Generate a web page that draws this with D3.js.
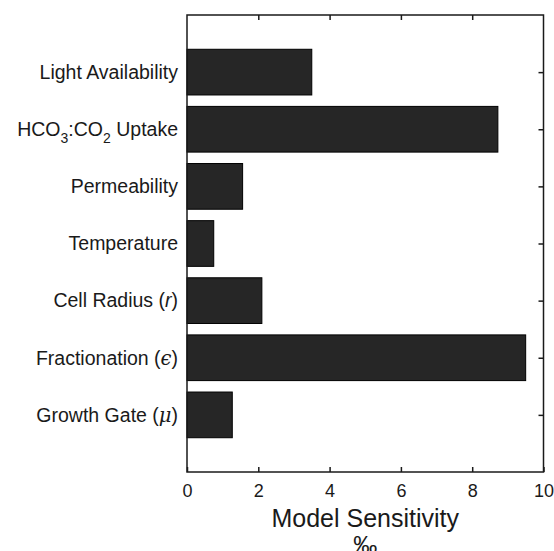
<!DOCTYPE html>
<html>
<head>
<meta charset="utf-8">
<script src="https://cdn.jsdelivr.net/npm/d3@7"></script>
<style>
  body { margin: 0; background: #fff; }
  text { font-family: "Liberation Sans", Arial, sans-serif; fill: #1a1a1a; }
</style>
</head>
<body>
<div id="chart"></div>
<script>
// categories, top to bottom
const categories = [
    'Light Availability', 'HCO3:CO2 Uptake', 'Permeability', 'Temperature',
    'Cell Radius (r)', 'Fractionation (ϵ)', 'Growth Gate (μ)'
];
const sensitivity = [3.5, 8.72, 1.56, 0.75, 2.1, 9.5, 1.27];
const xTicks = [0, 2, 4, 6, 8, 10];

const width = 554, height = 551;
const margin = {top: 15, right: 10, bottom: 79, left: 187};

const svg = d3.select('#chart').append('svg')
    .attr('width', width)
    .attr('height', height);

const x = d3.scaleLinear().domain([0, 10]).range([margin.left, width - margin.right - 0.5]);
// matlab style: categories at 1..7, axis from 0 to 8
const y = d3.scaleLinear().domain([0, 8]).range([margin.top, height - margin.bottom]);
const barH = (y(1) - y(0)) * 0.8;

svg.append('g').selectAll('rect')
    .data(sensitivity)
    .join('rect')
    .attr('x', x(0))
    .attr('y', (d, i) => y(i + 1) - barH / 2)
    .attr('width', d => x(d) - x(0))
    .attr('height', barH)
    .attr('fill', '#262626')
    .attr('stroke', '#000')
    .attr('stroke-width', 1);

// box
svg.append('rect')
    .attr('x', x(0)).attr('y', y(0))
    .attr('width', x(10) - x(0)).attr('height', y(8) - y(0))
    .attr('fill', 'none').attr('stroke', '#1a1a1a').attr('stroke-width', 1.5);

const tickLen = 5;
// bottom axis ticks + labels
const bottomAxis = svg.append('g').attr('transform', `translate(0,${y(8)})`)
    .call(d3.axisBottom(x).tickValues(xTicks).tickSizeInner(-tickLen).tickSizeOuter(0).tickPadding(12));
bottomAxis.select('.domain').remove();
bottomAxis.selectAll('text').attr('font-size', 18).attr('fill', '#1a1a1a');
bottomAxis.selectAll('line').attr('stroke', '#1a1a1a').attr('stroke-width', 1.5);

// top ticks
const topAxis = svg.append('g').attr('transform', `translate(0,${y(0)})`)
    .call(d3.axisTop(x).tickValues(xTicks.slice(1, -1)).tickSizeInner(-tickLen).tickSizeOuter(0).tickFormat(''));
topAxis.select('.domain').remove();
topAxis.selectAll('line').attr('stroke', '#1a1a1a').attr('stroke-width', 1.5);

// right ticks
const rightAxis = svg.append('g').attr('transform', `translate(${x(10)},0)`)
    .call(d3.axisRight(y).tickValues(d3.range(1, 8)).tickSizeInner(-tickLen).tickSizeOuter(0).tickFormat(''));
rightAxis.select('.domain').remove();
rightAxis.selectAll('line').attr('stroke', '#1a1a1a').attr('stroke-width', 1.5);

// category labels
const labels = svg.append('g').selectAll('text')
    .data(categories)
    .join('text')
    .attr('x', x(0) - 9)
    .attr('y', (d, i) => y(i + 1))
    .attr('dy', '0.35em')
    .attr('text-anchor', 'end')
    .attr('font-size', 19.5);

labels.each(function(d) {
    const t = d3.select(this);
    if (d === 'HCO3:CO2 Uptake') {
        t.append('tspan').text('HCO');
        t.append('tspan').text('3').attr('font-size', 14).attr('dy', 7);
        t.append('tspan').text(':CO').attr('dy', -7);
        t.append('tspan').text('2').attr('font-size', 14).attr('dy', 7);
        t.append('tspan').text(' Uptake').attr('dy', -7);
    } else {
        const m = d.match(/^(.*\()(.)(\))$/);
        if (m) {
            t.append('tspan').text(m[1]);
            t.append('tspan').text(m[2]).attr('font-style', 'italic')
                .attr('font-family', m[2] === 'r' ? null : '"DejaVu Serif", serif');
            t.append('tspan').text(m[3]);
        } else {
            t.text(d);
        }
    }
});

// axis title
svg.append('text')
    .attr('x', (x(0) + x(10)) / 2)
    .attr('y', 527)
    .attr('text-anchor', 'middle')
    .attr('font-size', 25)
    .text('Model Sensitivity');
svg.append('text')
    .attr('x', (x(0) + x(10)) / 2)
    .attr('y', 553)
    .attr('text-anchor', 'middle')
    .attr('font-size', 24)
    .text('‰');
</script>
</body>
</html>
